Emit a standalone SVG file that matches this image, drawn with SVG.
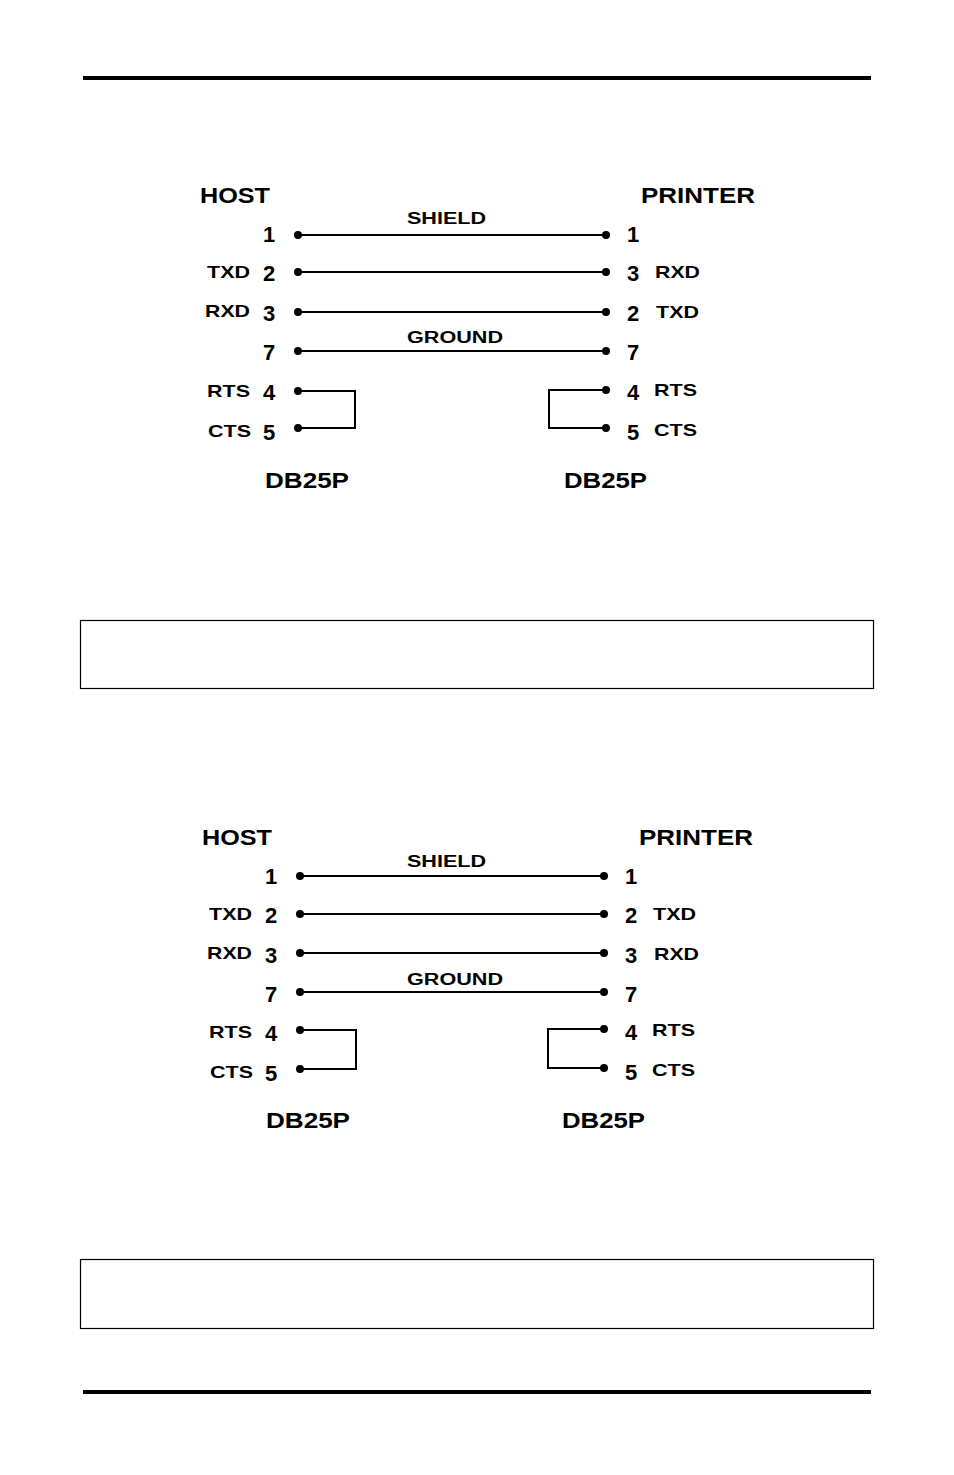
<svg xmlns="http://www.w3.org/2000/svg" width="954" height="1475" viewBox="0 0 954 1475">
<style>
text{font-family:"Liberation Sans",Arial,sans-serif;font-weight:bold;fill:#000}
.h{font-size:22px}.p{font-size:22px}.s{font-size:17px}.w{font-size:16px}
.ln{stroke:#000;stroke-width:2;fill:none}
.rule{stroke:#000;stroke-width:4}
.box{fill:none;stroke:#000;stroke-width:1.2}
</style>
<g id="rules"><line class="rule" x1="83" y1="78" x2="871" y2="78"/><line class="rule" x1="83" y1="1392" x2="871" y2="1392"/></g>
<g id="box1"><rect class="box" x="80.5" y="620.5" width="793" height="68"/></g>
<g id="box2"><rect class="box" x="80.5" y="1259.5" width="793" height="69"/></g>
<g id="diagram1">
<text class="h" x="200" y="203" textLength="70" lengthAdjust="spacingAndGlyphs">HOST</text>
<text class="h" x="641" y="203" textLength="114" lengthAdjust="spacingAndGlyphs">PRINTER</text>
<text class="p" x="263" y="242">1</text>
<text class="s" x="207" y="278" textLength="43" lengthAdjust="spacingAndGlyphs">TXD</text><text class="p" x="263" y="281">2</text>
<text class="s" x="205" y="317" textLength="45" lengthAdjust="spacingAndGlyphs">RXD</text><text class="p" x="263" y="321">3</text>
<text class="p" x="263" y="360">7</text>
<text class="s" x="207" y="397" textLength="43" lengthAdjust="spacingAndGlyphs">RTS</text><text class="p" x="263" y="400">4</text>
<text class="s" x="208" y="437" textLength="43" lengthAdjust="spacingAndGlyphs">CTS</text><text class="p" x="263" y="440">5</text>
<text class="p" x="627" y="242">1</text>
<text class="p" x="627" y="281">3</text><text class="s" x="655" y="278" textLength="45" lengthAdjust="spacingAndGlyphs">RXD</text>
<text class="p" x="627" y="321">2</text><text class="s" x="656" y="318" textLength="43" lengthAdjust="spacingAndGlyphs">TXD</text>
<text class="p" x="627" y="400">4</text><text class="s" x="654" y="396" textLength="43" lengthAdjust="spacingAndGlyphs">RTS</text>
<text class="p" x="627" y="360">7</text>
<text class="p" x="627" y="440">5</text><text class="s" x="654" y="436" textLength="43" lengthAdjust="spacingAndGlyphs">CTS</text>
<text class="w" x="407" y="224" textLength="79" lengthAdjust="spacingAndGlyphs">SHIELD</text>
<text class="w" x="407" y="343" textLength="96" lengthAdjust="spacingAndGlyphs">GROUND</text>
<text class="h" x="265" y="488" textLength="84" lengthAdjust="spacingAndGlyphs">DB25P</text>
<text class="h" x="564" y="488" textLength="83" lengthAdjust="spacingAndGlyphs">DB25P</text>
</g>
<g id="connectors1" fill="#000">
<path class="ln" d="M298 235H606M298 272H606M298 312H606M298 351H606M298 391H355V428H298M606 390H549V428H606"/>
<circle cx="298" cy="235" r="4"/><circle cx="606" cy="235" r="4"/>
<circle cx="298" cy="272" r="4"/><circle cx="606" cy="272" r="4"/>
<circle cx="298" cy="312" r="4"/><circle cx="606" cy="312" r="4"/>
<circle cx="298" cy="351" r="4"/><circle cx="606" cy="351" r="4"/>
<circle cx="298" cy="391" r="4"/><circle cx="606" cy="390" r="4"/>
<circle cx="298" cy="428" r="4"/><circle cx="606" cy="428" r="4"/>
</g>
<g id="diagram2" transform="translate(2,642)">
<text class="h" x="200" y="203" textLength="70" lengthAdjust="spacingAndGlyphs">HOST</text>
<text class="h" x="637" y="203" textLength="114" lengthAdjust="spacingAndGlyphs">PRINTER</text>
<text class="p" x="263" y="242">1</text>
<text class="s" x="207" y="278" textLength="43" lengthAdjust="spacingAndGlyphs">TXD</text><text class="p" x="263" y="281">2</text>
<text class="s" x="205" y="317" textLength="45" lengthAdjust="spacingAndGlyphs">RXD</text><text class="p" x="263" y="321">3</text>
<text class="p" x="263" y="360">7</text>
<text class="s" x="207" y="396" textLength="43" lengthAdjust="spacingAndGlyphs">RTS</text><text class="p" x="263" y="399">4</text>
<text class="s" x="208" y="436" textLength="43" lengthAdjust="spacingAndGlyphs">CTS</text><text class="p" x="263" y="439">5</text>
<text class="p" x="623" y="242">1</text>
<text class="p" x="623" y="281">2</text><text class="s" x="651" y="278" textLength="43" lengthAdjust="spacingAndGlyphs">TXD</text>
<text class="p" x="623" y="321">3</text><text class="s" x="652" y="318" textLength="45" lengthAdjust="spacingAndGlyphs">RXD</text>
<text class="p" x="623" y="360">7</text>
<text class="p" x="623" y="398">4</text><text class="s" x="650" y="394" textLength="43" lengthAdjust="spacingAndGlyphs">RTS</text>
<text class="p" x="623" y="438">5</text><text class="s" x="650" y="434" textLength="43" lengthAdjust="spacingAndGlyphs">CTS</text>
<text class="w" x="405" y="225" textLength="79" lengthAdjust="spacingAndGlyphs">SHIELD</text>
<text class="w" x="405" y="343" textLength="96" lengthAdjust="spacingAndGlyphs">GROUND</text>
<text class="h" x="264" y="486" textLength="84" lengthAdjust="spacingAndGlyphs">DB25P</text>
<text class="h" x="560" y="486" textLength="83" lengthAdjust="spacingAndGlyphs">DB25P</text>
</g>
<g id="connectors2" fill="#000">
<path class="ln" d="M300 876H604M300 914H604M300 953H604M300 992H604M300 1030H356V1069H300M604 1029H548V1068H604"/>
<circle cx="300" cy="876" r="4"/><circle cx="604" cy="876" r="4"/>
<circle cx="300" cy="914" r="4"/><circle cx="604" cy="914" r="4"/>
<circle cx="300" cy="953" r="4"/><circle cx="604" cy="953" r="4"/>
<circle cx="300" cy="992" r="4"/><circle cx="604" cy="992" r="4"/>
<circle cx="300" cy="1030" r="4"/><circle cx="604" cy="1029" r="4"/>
<circle cx="300" cy="1069" r="4"/><circle cx="604" cy="1068" r="4"/>
</g>
</svg>
